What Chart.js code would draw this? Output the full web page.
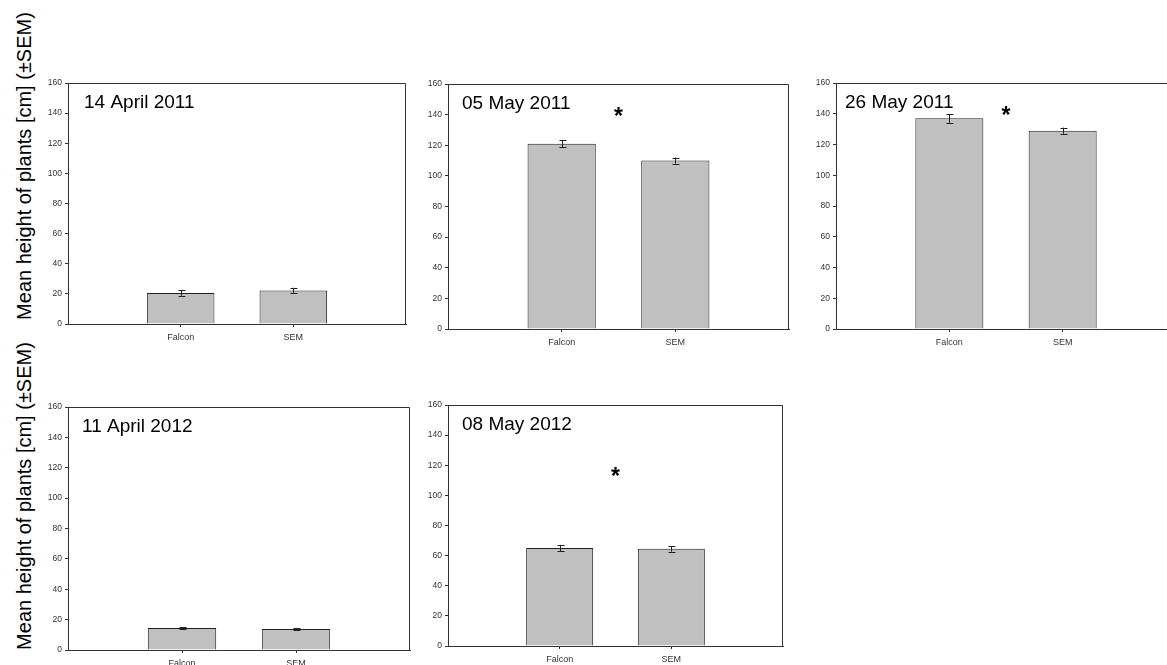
<!DOCTYPE html>
<html lang="en">
<head>
    <meta charset="UTF-8">
    <title>Mean height of plants</title>
    <style>
        body { margin: 0; width: 1167px; height: 665px; overflow: hidden; background: #fff; position: relative; font-family: "Liberation Sans", Arial, sans-serif; }
        canvas { position: absolute; }
        .ylab { position: absolute; width: 330px; height: 20px; line-height: 20px; font-size: 20px; text-align: center; transform: rotate(-90deg); white-space: nowrap; color: #000; }
    </style>
</head>
<body>
    <div class="ylab" style="left: -141px; top: 156px;">Mean height of plants [cm] (±SEM)</div>
    <div class="ylab" style="left: -141px; top: 486px;">Mean height of plants [cm] (±SEM)</div>

    <script src="https://cdn.jsdelivr.net/npm/chart.js"></script>
    <script>
        // data
        const dates = ['14 April 2011', '05 May 2011', '26 May 2011', '11 April 2012', '08 May 2012'];
        const categories = ['Falcon', 'SEM'];
        const falcon = [20.5, 121, 137, 14.5, 65];
        const sem = [22.3, 110, 129, 13.8, 64.5];
        const falconErr = [1.8, 2.3, 2.9, 0.5, 2.1];
        const semErr = [1.8, 2, 2, 0.5, 1.9];
        const stars = [null, 141, 141, null, 115];   // significance marks (y value)
        const yTicks = [0, 20, 40, 60, 80, 100, 120, 140, 160];

        // plot area of each panel in page pixels: left, top, right, bottom
        const boxes = [
            { l: 68, t: 83, r: 406, b: 324, tx: 16 },
            { l: 448, t: 84, r: 789, b: 329, tx: 14 },
            { l: 836, t: 83, r: 1176, b: 329, tx: 9 },
            { l: 68, t: 407, r: 410, b: 650, tx: 14 },
            { l: 448, t: 405, r: 783, b: 646, tx: 14 }
        ];

        const axisW = 40, axisH = 30, padT = 10, padR = 10;
        const ink = '#222';

        dates.forEach((date, i) => {
            const box = boxes[i];
            const canvas = document.createElement('canvas');
            const w = box.r - box.l + axisW + padR;
            const h = box.b - box.t + padT + axisH;
            canvas.width = w;
            canvas.height = h;
            canvas.style.left = (box.l - axisW) + 'px';
            canvas.style.top = (box.t - padT) + 'px';
            canvas.style.width = w + 'px';
            canvas.style.height = h + 'px';
            document.body.appendChild(canvas);

            const labels = ['', ...categories, ''];
            const values = [null, falcon[i], sem[i], null];
            const errs = [null, falconErr[i], semErr[i], null];

            const panelPlugin = {
                id: 'panelExtras',
                afterDatasetsDraw(chart) {
                    const ctx = chart.ctx;
                    const area = chart.chartArea;
                    const xs = chart.scales.x, ys = chart.scales.y;
                    ctx.save();

                    // error bars
                    ctx.strokeStyle = ink;
                    ctx.lineWidth = 1;
                    values.forEach((v, k) => {
                        if (v === null) return;
                        const x = Math.round(xs.getPixelForValue(k)) + 0.5;
                        const y1 = ys.getPixelForValue(v - errs[k]);
                        const y2 = ys.getPixelForValue(v + errs[k]);
                        ctx.beginPath();
                        ctx.moveTo(x, y1); ctx.lineTo(x, y2);
                        ctx.moveTo(x - 3, Math.round(y1) + 0.5); ctx.lineTo(x + 4, Math.round(y1) + 0.5);
                        ctx.moveTo(x - 3, Math.round(y2) + 0.5); ctx.lineTo(x + 4, Math.round(y2) + 0.5);
                        ctx.stroke();
                    });

                    // top and right frame
                    const L = Math.round(area.left) + 0.5, R = Math.round(area.right) - 0.5;
                    const T = Math.round(area.top) + 0.5, B = Math.round(area.bottom) + 0.5;
                    ctx.strokeStyle = '#333';
                    ctx.beginPath();
                    ctx.moveTo(L, T); ctx.lineTo(R, T); ctx.lineTo(R, B);
                    ctx.stroke();

                    // date label
                    ctx.fillStyle = '#000';
                    ctx.font = '19px "Liberation Sans", Arial, sans-serif';
                    ctx.textBaseline = 'middle';
                    ctx.textAlign = 'left';
                    ctx.fillText(date, area.left + box.tx, area.top + 20);

                    // significance star
                    if (stars[i] !== null) {
                        ctx.font = 'bold 23px "Liberation Sans", Arial, sans-serif';
                        ctx.textAlign = 'center';
                        ctx.textBaseline = 'alphabetic';
                        ctx.fillText('*', xs.getPixelForValue(1.5), ys.getPixelForValue(stars[i]) + 11);
                    }
                    ctx.restore();
                }
            };

            new Chart(canvas, {
                type: 'bar',
                data: {
                    labels: labels,
                    datasets: [{
                        data: values,
                        backgroundColor: '#c0c0c0',
                        borderColor: ink,
                        borderWidth: 1,
                        categoryPercentage: 1,
                        barPercentage: 0.6
                    }]
                },
                options: {
                    responsive: false,
                    animation: false,
                    layout: { padding: { top: padT, right: padR, left: 0, bottom: 0 } },
                    plugins: { legend: { display: false }, tooltip: { enabled: false } },
                    scales: {
                        x: {
                            offset: false,
                            grid: {
                                offset: false,
                                drawOnChartArea: false,
                                tickLength: 3,
                                color: ctx => (ctx.tick && ctx.tick.label) ? '#333' : 'rgba(0,0,0,0)'
                            },
                            border: { color: '#333' },
                            ticks: {
                                autoSkip: false,
                                maxRotation: 0,
                                padding: 5,
                                color: '#333',
                                font: { family: '"Liberation Sans", Arial, sans-serif', size: 9 }
                            },
                            afterFit(scale) { scale.height = axisH; }
                        },
                        y: {
                            min: yTicks[0],
                            max: yTicks[yTicks.length - 1],
                            afterBuildTicks(scale) { scale.ticks = yTicks.map(v => ({ value: v })); },
                            grid: { drawOnChartArea: false, tickLength: 3, color: '#333' },
                            border: { color: '#333' },
                            ticks: {
                                padding: 3,
                                color: '#333',
                                font: { family: '"Liberation Sans", Arial, sans-serif', size: 8.5 }
                            },
                            afterFit(scale) { scale.width = axisW; }
                        }
                    }
                },
                plugins: [panelPlugin]
            });
        });
    </script>
</body>
</html>
